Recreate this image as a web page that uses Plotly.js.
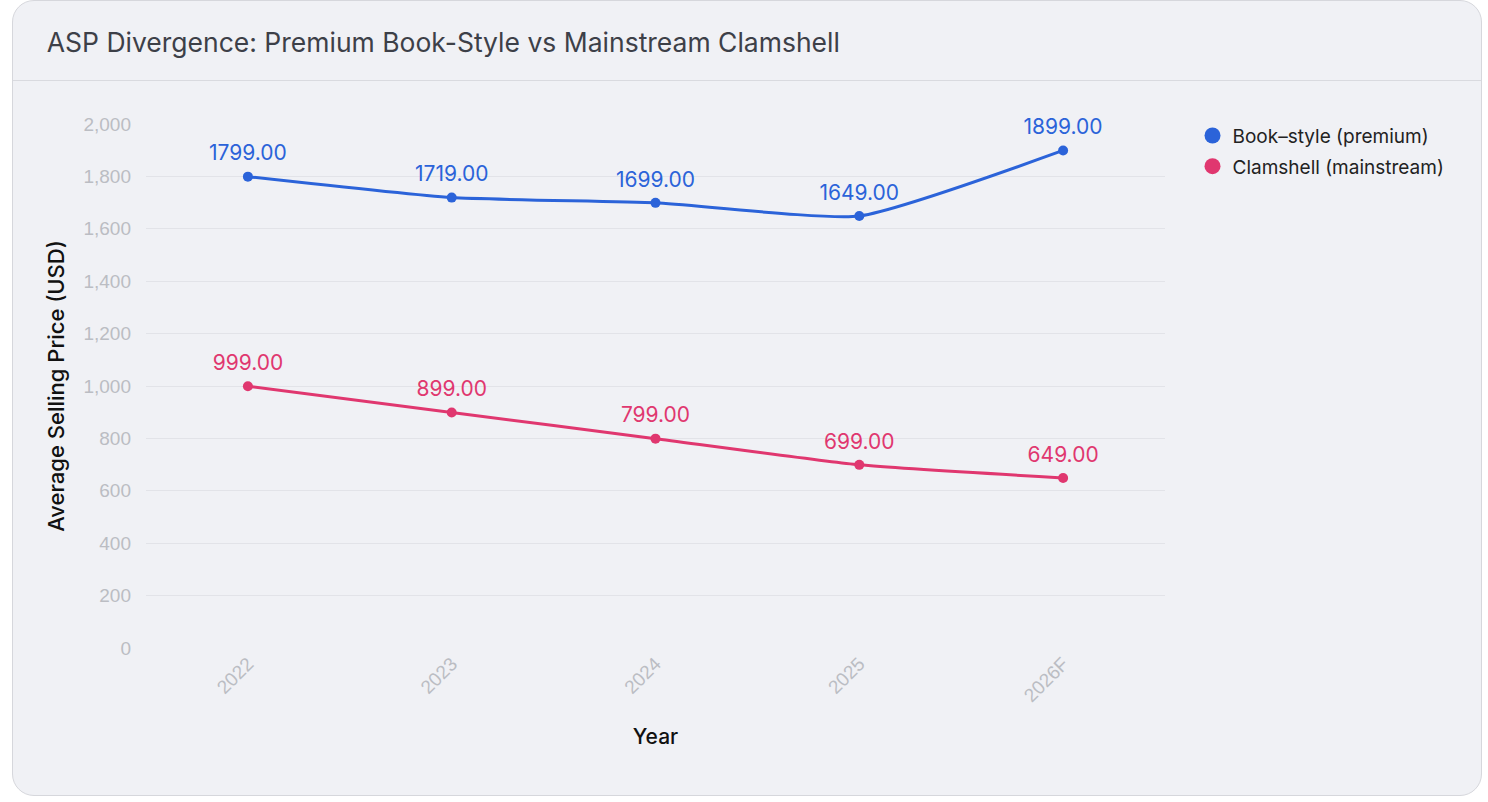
<!DOCTYPE html>
<html>
<head>
<meta charset="utf-8">
<script src="https://cdn.plot.ly/plotly-3.0.1.min.js"></script>
<style>
  html, body { margin: 0; padding: 0; background: #ffffff; width: 1488px; height: 802px; overflow: hidden; }
  #card { position: absolute; left: 12px; top: 0px; width: 1470px; height: 796px; box-sizing: border-box;
          border: 1px solid #d6d7dc; border-radius: 22px; background: #f0f1f5; }
  #sep { position: absolute; left: 13px; top: 80px; width: 1468px; height: 1px; background: #d9dadf; }
  #chart { position: absolute; left: 13px; top: 1px; width: 1468px; height: 794px; }
</style>
</head>
<body>
<div id="card"></div>
<div id="sep"></div>
<div id="chart"></div>
<script>
const years = ["2022", "2023", "2024", "2025", "2026F"];
const bookStyle = [1799, 1719, 1699, 1649, 1899];
const clamshell = [999, 899, 799, 699, 649];
const seriesNames = ["Book\u2013style (premium)", "Clamshell (mainstream)"];
const yTicks = [0, 200, 400, 600, 800, 1000, 1200, 1400, 1600, 1800, 2000];

const blue = "#2b63d9";
const pink = "#e0376f";
const labelFont = "Inter, 'Noto Sans', sans-serif";
const axisFont = "'Liberation Sans', Arial, sans-serif";

function lineTrace(name, ys, color, group) {
  return {
    type: "scatter",
    mode: "lines+markers",
    name: name,
    legendgroup: group,
    showlegend: false,
    x: years,
    y: ys,
    line: { color: color, width: 3, shape: "spline", smoothing: 0.5 },
    marker: { color: color, size: 10 },
    cliponaxis: false
  };
}

function labelTrace(name, ys, color, group) {
  return {
    type: "scatter",
    mode: "markers+text",
    name: name,
    legendgroup: group,
    showlegend: false,
    x: years,
    y: ys,
    text: ys.map(v => v.toFixed(2)),
    textposition: "top center",
    textfont: { family: labelFont, size: 21, color: color },
    marker: { color: "rgba(0,0,0,0)", size: 16, line: { width: 0 } },
    cliponaxis: false
  };
}

function legendTrace(name, color, group) {
  return {
    type: "scatter",
    mode: "markers",
    name: name,
    legendgroup: group,
    showlegend: true,
    x: [null],
    y: [null],
    marker: { color: color, size: 22 }
  };
}

const data = [
  lineTrace(seriesNames[0], bookStyle, blue, "a"),
  lineTrace(seriesNames[1], clamshell, pink, "b"),
  labelTrace(seriesNames[0], bookStyle, blue, "a"),
  labelTrace(seriesNames[1], clamshell, pink, "b"),
  legendTrace(seriesNames[0], blue, "a"),
  legendTrace(seriesNames[1], pink, "b")
];

const layout = {
  width: 1468,
  height: 794,
  paper_bgcolor: "rgba(0,0,0,0)",
  plot_bgcolor: "rgba(0,0,0,0)",
  margin: { l: 133, r: 316, t: 123, b: 147 },
  font: { family: labelFont },
  title: {
    text: "ASP Divergence: Premium Book-Style vs Mainstream Clamshell",
    xref: "container", yref: "container",
    x: 0.023, xanchor: "left",
    y: 0.948, yanchor: "middle",
    font: { family: labelFont, size: 26.5, color: "#3d4048" }
  },
  xaxis: {
    type: "category",
    range: [-0.5, 4.5],
    showgrid: false,
    zeroline: false,
    showline: false,
    tickangle: -45,
    tickfont: { family: axisFont, size: 19, color: "#bbbdc3" },
    title: { text: "Year", font: { family: labelFont, size: 21, color: "#111111", weight: 500 }, standoff: 24 }
  },
  yaxis: {
    range: [0, 2000],
    tickvals: yTicks,
    ticktext: yTicks.map(v => v.toLocaleString("en-US")),
    showgrid: true,
    gridcolor: "#e2e3e8",
    gridwidth: 1,
    zeroline: false,
    showline: false,
    tickfont: { family: axisFont, size: 19, color: "#bbbdc3" },
    ticklabelstandoff: 14,
    title: { text: "Average Selling Price (USD)", font: { family: labelFont, size: 22, color: "#111111", weight: 500 }, standoff: 12 }
  },
  showlegend: true,
  legend: {
    x: 1.027, xanchor: "left",
    y: 1.014, yanchor: "top",
    bgcolor: "rgba(0,0,0,0)",
    font: { family: labelFont, size: 19, color: "#222222" },
    itemsizing: "trace",
    traceorder: "grouped",
    tracegroupgap: 3
  }
};

Plotly.newPlot("chart", data, layout, { displayModeBar: false, staticPlot: true });
</script>
</body>
</html>
